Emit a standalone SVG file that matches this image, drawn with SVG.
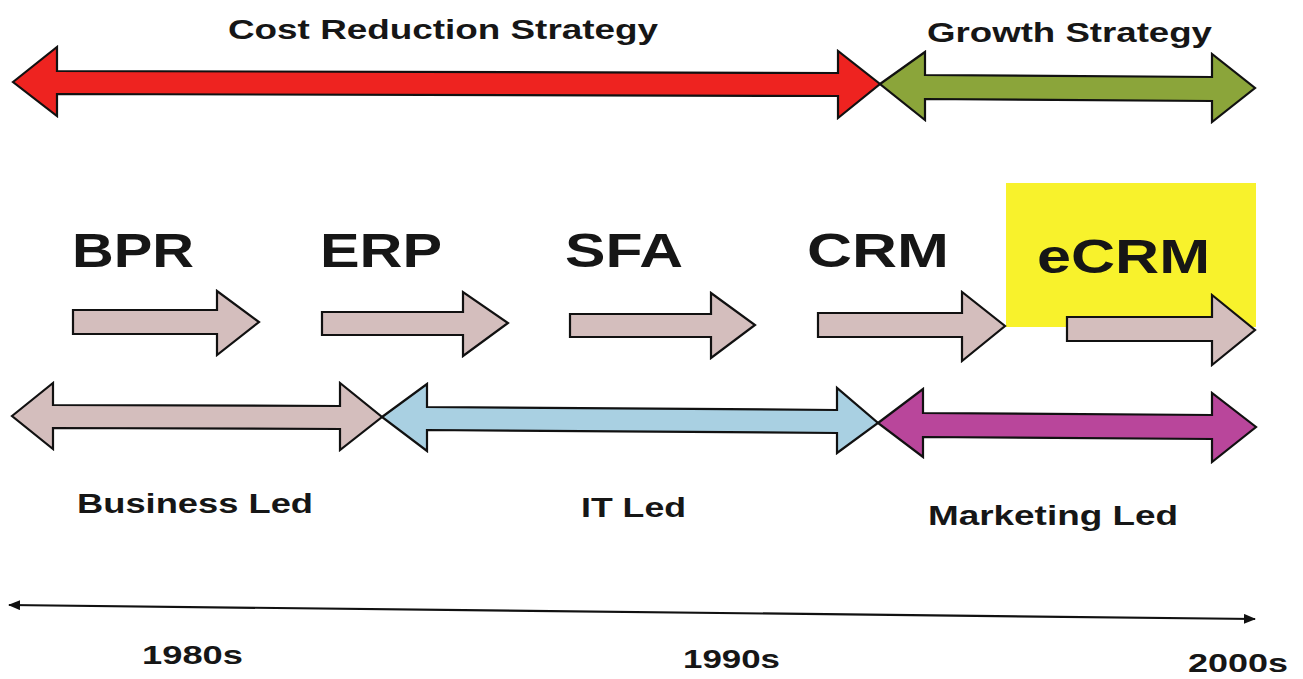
<svg xmlns="http://www.w3.org/2000/svg" width="1303" height="679" viewBox="0 0 1303 679">
<style>
.ar{stroke:#111;stroke-width:2.2;stroke-linejoin:miter}
.t{font-family:"Liberation Sans",Arial,sans-serif;font-weight:bold;fill:#161616}
.lbl{font-size:27px}
.big{font-size:48px}
.yr{font-size:26px}
</style>
<defs>
<marker id="tip" viewBox="0 0 12 10" refX="11" refY="5" markerWidth="12" markerHeight="10" markerUnits="userSpaceOnUse" orient="auto-start-reverse">
<path d="M0,0 L12,5 L0,10 Z" fill="#111"/>
</marker>
</defs>
<rect width="1303" height="679" fill="#ffffff"/>

<g id="strategy-arrows">
<g id="cost-reduction-arrow">
<polygon class="ar" fill="#ee2320" points="13,82 57,47 57,71 838,73 838,51 880,84 838,118 838,96 57,94 57,116"/>
</g>
<g id="growth-arrow">
<polygon class="ar" fill="#8ba53a" points="880,84 925,52 925,75 1212,77 1212,54 1255,88 1212,122 1212,101 925,99 925,120"/>
</g>
</g>

<g id="ecrm-highlight">
<rect x="1006" y="183" width="250" height="144" fill="#f8f22c"/>
</g>

<g id="stage-arrows">
<g id="bpr-arrow"><polygon class="ar" fill="#d4bebd" points="73,310 217,310 217,291 259,322 217,355 217,334 73,334"/></g>
<g id="erp-arrow"><polygon class="ar" fill="#d4bebd" points="322,312 463,312 463,292 508,323 463,356 463,335 322,335"/></g>
<g id="sfa-arrow"><polygon class="ar" fill="#d4bebd" points="570,314 711,314 711,293 755,325 711,358 711,337 570,337"/></g>
<g id="crm-arrow"><polygon class="ar" fill="#d4bebd" points="818,313 962,313 962,292 1005,326 962,361 962,337 818,337"/></g>
<g id="ecrm-arrow"><polygon class="ar" fill="#d4bebd" points="1067,317 1212,317 1212,295 1255,330 1212,365 1212,341 1067,341"/></g>
</g>

<g id="led-arrows">
<g id="business-led-arrow"><polygon class="ar" fill="#d4bebd" points="12,416 53,383 53,405 340,406 340,383 382,417 340,450 340,429 53,428 53,449"/></g>
<g id="it-led-arrow"><polygon class="ar" fill="#a9d0e2" points="382,417 427,384 427,407 837,410 837,388 878,423 837,453 837,433 427,430 427,451"/></g>
<g id="marketing-led-arrow"><polygon class="ar" fill="#b9469b" points="878,423 923,389 923,413 1212,415 1212,393 1256,427 1212,462 1212,439 923,437 923,457"/></g>
</g>

<g id="connectors">
<line id="timeline" x1="9" y1="605" x2="1255" y2="619" stroke="#111" stroke-width="2.2" marker-start="url(#tip)" marker-end="url(#tip)"/>
</g>

<g id="labels">
<text class="t lbl" x="228" y="39" textLength="430" lengthAdjust="spacingAndGlyphs">Cost Reduction Strategy</text>
<text class="t lbl" x="927" y="42" textLength="285" lengthAdjust="spacingAndGlyphs">Growth Strategy</text>
<text class="t big" x="72" y="267" textLength="122" lengthAdjust="spacingAndGlyphs">BPR</text>
<text class="t big" x="320" y="267" textLength="122" lengthAdjust="spacingAndGlyphs">ERP</text>
<text class="t big" x="565" y="267" textLength="118" lengthAdjust="spacingAndGlyphs">SFA</text>
<text class="t big" x="807" y="267" textLength="142" lengthAdjust="spacingAndGlyphs">CRM</text>
<text class="t big" x="1037" y="273" textLength="173" lengthAdjust="spacingAndGlyphs">eCRM</text>
<text class="t lbl" x="77" y="513" textLength="236" lengthAdjust="spacingAndGlyphs">Business Led</text>
<text class="t lbl" x="581" y="517" textLength="105" lengthAdjust="spacingAndGlyphs">IT Led</text>
<text class="t lbl" x="928" y="525" textLength="250" lengthAdjust="spacingAndGlyphs">Marketing Led</text>
<text class="t yr" x="142" y="664" textLength="101" lengthAdjust="spacingAndGlyphs">1980s</text>
<text class="t yr" x="683" y="668" textLength="97" lengthAdjust="spacingAndGlyphs">1990s</text>
<text class="t yr" x="1188" y="672" textLength="100" lengthAdjust="spacingAndGlyphs">2000s</text>
</g>
</svg>
